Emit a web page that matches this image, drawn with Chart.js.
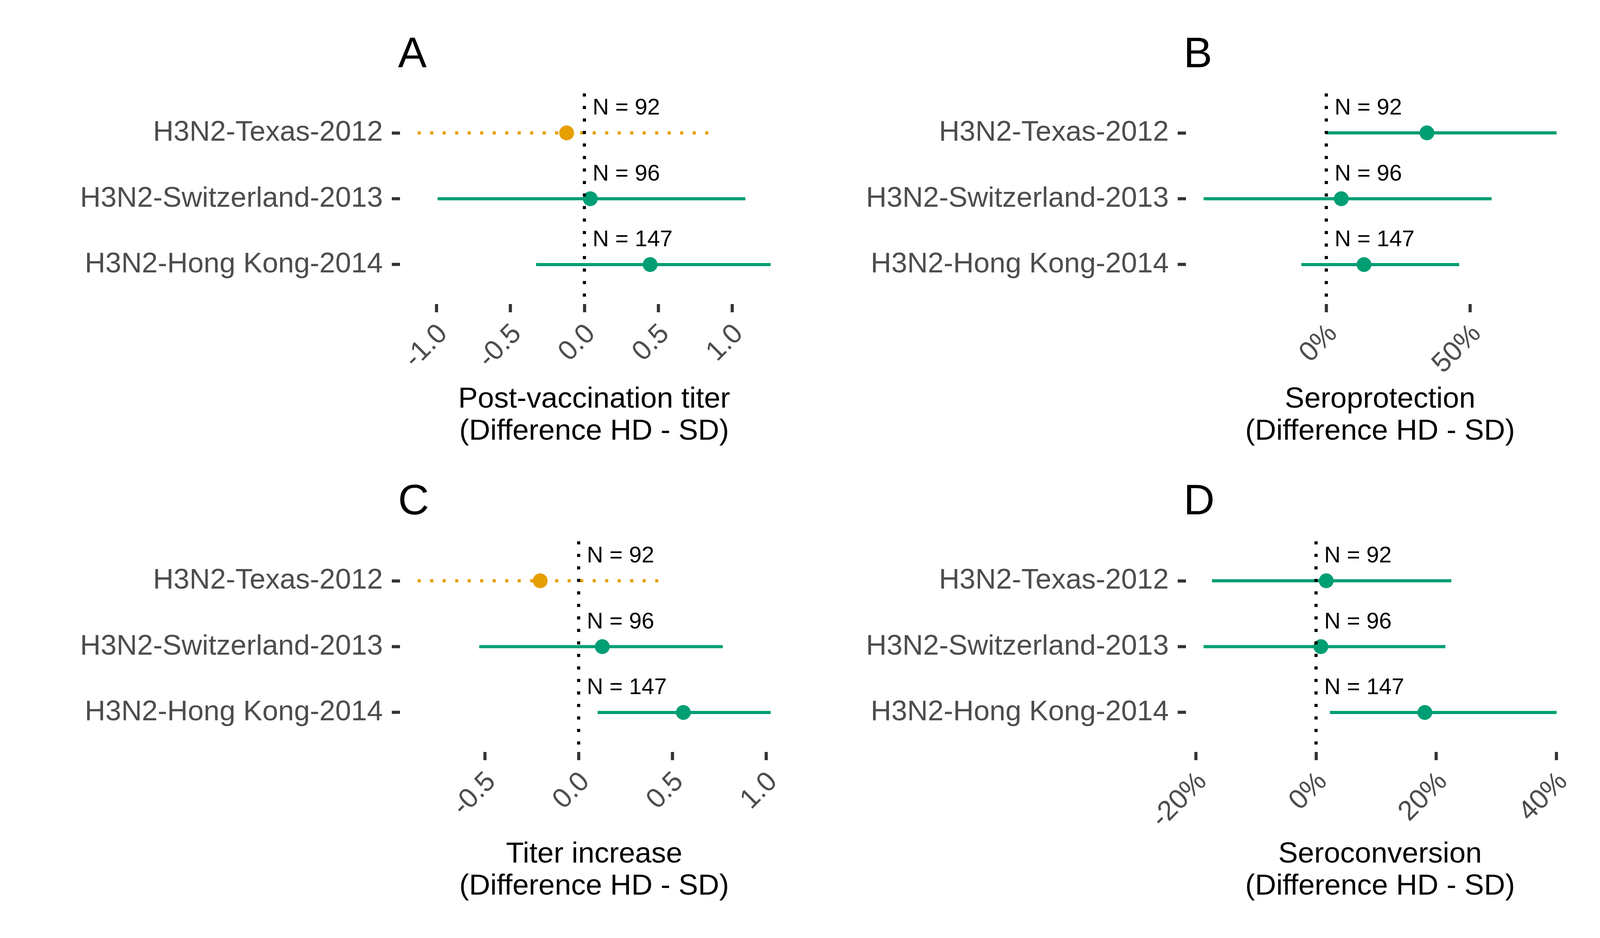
<!DOCTYPE html>
<html>
<head>
<meta charset="utf-8">
<script src="https://cdn.jsdelivr.net/npm/chart.js@4.4.1/dist/chart.umd.min.js"></script>
<style>
  body { margin: 0; background: #fff; width: 4800px; height: 2400px; position: relative; overflow: hidden;
         font-family: "Liberation Sans", Arial, sans-serif; }
  canvas { position: absolute; }
  .tag { position: absolute; font-size: 110px; line-height: 110px; color: #000; }
  .leg { position: absolute; font-size: 74px; line-height: 74px; color: #000; white-space: nowrap; }
  .key { position: absolute; }
</style>
</head>
<body>
<canvas id="panelA" width="2100" height="1250" style="left:0px;top:0px"></canvas>
<canvas id="panelB" width="2100" height="1250" style="left:2012px;top:0px"></canvas>
<canvas id="panelC" width="2100" height="1250" style="left:0px;top:1146px"></canvas>
<canvas id="panelD" width="2100" height="1250" style="left:2012px;top:1146px"></canvas>

<div class="tag" style="left:1019px;top:79px">A</div>
<div class="tag" style="left:3030px;top:79px">B</div>
<div class="tag" style="left:1019px;top:1223px">C</div>
<div class="tag" style="left:3030px;top:1223px">D</div>

<div class="leg" style="left:4163px;top:843px">High-Dose</div>
<div class="leg" style="left:4163px;top:924px">Net Effect</div>
<div class="key" style="left:4174px;top:1096px;width:115px;height:17px;
     background:repeating-linear-gradient(to right,#E69F00 0 17px,transparent 17px 67px)"></div>
<div class="leg" style="left:4346px;top:1071px">Decrease</div>
<div class="key" style="left:4174px;top:1241px;width:115px;height:18px;background:#009E73"></div>
<div class="leg" style="left:4346px;top:1215px">Increase</div>

<script>
const strains = ['H3N2-Texas-2012', 'H3N2-Switzerland-2013', 'H3N2-Hong Kong-2014'];
const sampleN = [92, 96, 147];

// A: post-vaccination titer
const titerEst = [-0.12, 0.04, 0.445];
const titerLo = [-1.128, -0.993, -0.327];
const titerHi = [0.847, 1.089, 1.26];
const titerTicks = [-1, -0.5, 0, 0.5, 1];

// B: seroprotection (%)
const protEst = [35.0, 5.2, 13.1];
const protLo = [0.2, -42.7, -8.7];
const protHi = [80.1, 57.5, 46.2];
const protTicks = [0, 50];

// C: titer increase
const riseEst = [-0.205, 0.126, 0.558];
const riseLo = [-0.858, -0.53, 0.101];
const riseHi = [0.426, 0.768, 1.023];
const riseTicks = [-0.5, 0, 0.5, 1];

// D: seroconversion (%)
const convEst = [1.7, 0.8, 18.1];
const convLo = [-17.3, -18.7, 2.3];
const convHi = [22.5, 21.5, 40.0];
const convTicks = [-20, 0, 20, 40];

const ORANGE = '#E69F00';
const GREEN = '#009E73';
const FONT = '"Liberation Sans", Arial, sans-serif';

// N = ... labels just right of the zero line, above each row
const nLabelPlugin = {
  id: 'nLabels',
  afterDatasetsDraw(chart) {
    const { ctx, scales: { x, y } } = chart;
    ctx.save();
    ctx.font = '58px ' + FONT;
    ctx.fillStyle = '#000';
    ctx.textAlign = 'left';
    ctx.textBaseline = 'middle';
    sampleN.forEach((n, i) => {
      ctx.fillText('N = ' + n, x.getPixelForValue(0) + 21, y.getPixelForValue(i + 1) - 63);
    });
    ctx.restore();
  }
};

function makePanel(id, est, lo, hi, ticks, fmt, title, titlePad) {
  const datasets = [];
  // zero reference line
  datasets.push({
    data: [{ x: 0, y: 0.4 }, { x: 0, y: 3.6 }],
    showLine: true, borderColor: '#000', borderWidth: 8, borderDash: [8, 24],
    pointRadius: 0, order: 0
  });
  est.forEach((v, i) => {
    const col = v < 0 ? ORANGE : GREEN;
    datasets.push({
      data: [{ x: v, y: i + 1 }],
      showLine: false, pointRadius: 19, pointBackgroundColor: col, pointBorderWidth: 0, order: 1
    });
    datasets.push({
      data: [{ x: lo[i], y: i + 1 }, { x: hi[i], y: i + 1 }],
      showLine: true, borderColor: col, borderWidth: 8,
      borderDash: v < 0 ? [8, 24] : [], pointRadius: 0, order: 2
    });
  });

  const dMin = Math.min(0, ...lo), dMax = Math.max(0, ...hi);
  const pad = (dMax - dMin) * 0.05;

  new Chart(document.getElementById(id), {
    type: 'scatter',
    data: { datasets },
    options: {
      responsive: false,
      animation: false,
      devicePixelRatio: 1,
      layout: { padding: { left: 0, right: 82, top: 239, bottom: 0 } },
      plugins: { legend: { display: false }, tooltip: { enabled: false } },
      scales: {
        x: {
          type: 'linear', min: dMin - pad, max: dMax + pad,
          afterBuildTicks: s => { s.ticks = ticks.map(v => ({ value: v })); },
          afterFit: s => { s.height = 472; },
          border: { display: false },
          grid: { drawOnChartArea: false, drawTicks: true, tickLength: 21, tickWidth: 8, tickColor: '#333333' },
          ticks: {
            autoSkip: false, minRotation: 45, maxRotation: 45, padding: 14, labelOffset: 17,
            color: '#4D4D4D', font: { family: FONT, size: 71 },
            callback: v => fmt(v)
          },
          title: {
            display: true, text: title, color: '#000',
            font: { family: FONT, size: 75, lineHeight: 1.093 },
            padding: { top: 0, bottom: titlePad }
          }
        },
        y: {
          type: 'linear', min: 0.4, max: 3.6, reverse: true,
          afterBuildTicks: s => { s.ticks = [1, 2, 3].map(v => ({ value: v })); },
          afterFit: s => { s.width = 1024; },
          border: { display: false },
          grid: { drawOnChartArea: false, drawTicks: true, tickLength: 21, tickWidth: 8, tickColor: '#333333' },
          ticks: {
            padding: 23, color: '#4D4D4D', font: { family: FONT, size: 73 },
            callback: v => strains[v - 1]
          }
        }
      }
    },
    plugins: [nLabelPlugin]
  });
}

const dec1 = v => v.toFixed(1);
const pct = v => v + '%';

makePanel('panelA', titerEst, titerLo, titerHi, titerTicks, dec1,
  ['Post-vaccination titer', '(Difference HD - SD)'], 105);
makePanel('panelB', protEst, protLo, protHi, protTicks, pct,
  ['Seroprotection', '(Difference HD - SD)'], 105);
makePanel('panelC', riseEst, riseLo, riseHi, riseTicks, dec1,
  ['Titer increase', '(Difference HD - SD)'], 87);
makePanel('panelD', convEst, convLo, convHi, convTicks, pct,
  ['Seroconversion', '(Difference HD - SD)'], 87);
</script>
</body>
</html>
